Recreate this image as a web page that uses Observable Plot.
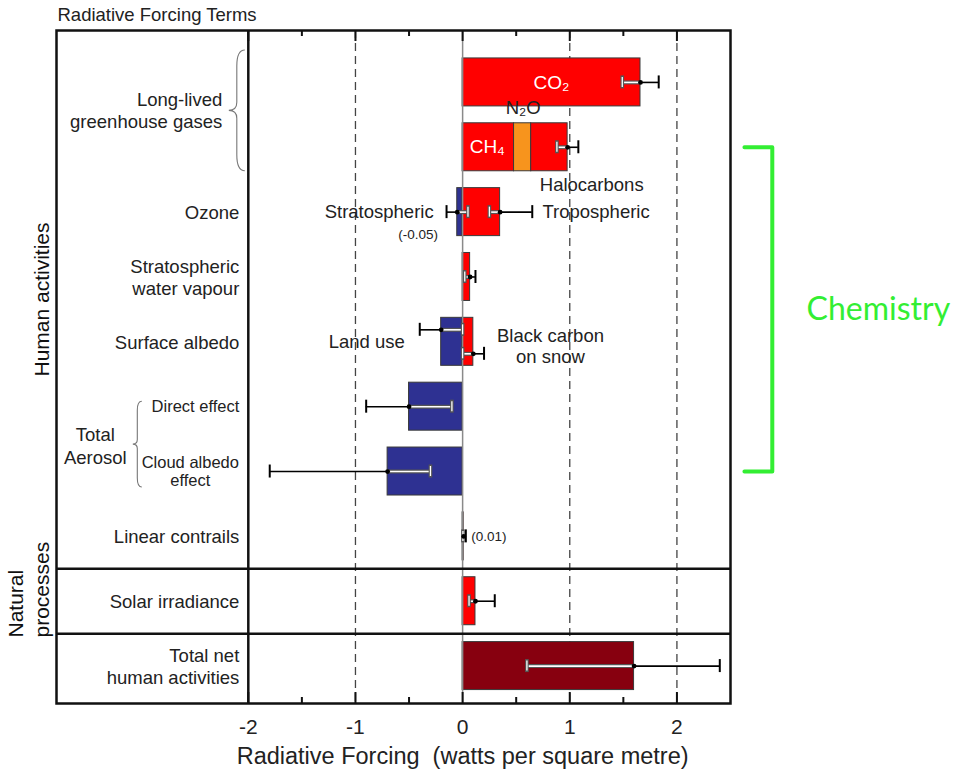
<!DOCTYPE html>
<html><head><meta charset="utf-8">
<script src="https://cdn.jsdelivr.net/npm/d3@7"></script>
<script src="https://cdn.jsdelivr.net/npm/@observablehq/plot@0.6"></script>
<style>body{margin:0;background:#fff}</style>
</head><body><div id="chart"></div>
<script>
// ---------- data ----------
const rows = ["CO2","Other long-lived","Ozone","Stratospheric water vapour","Surface albedo","Direct effect","Cloud albedo effect","Linear contrails","Solar irradiance","Total net human activities"];

const termRow   = ["CO2","Other long-lived","Other long-lived","Other long-lived","Ozone","Ozone","Stratospheric water vapour","Surface albedo","Surface albedo","Direct effect","Cloud albedo effect","Linear contrails","Solar irradiance","Total net human activities"];
const termName  = ["CO2","CH4","N2O","Halocarbons","Stratospheric ozone","Tropospheric ozone","Stratospheric water vapour","Land use","Black carbon on snow","Direct effect","Cloud albedo effect","Linear contrails","Solar irradiance","Total net human activities"];
const termValue = [1.66,0.48,0.16,0.34,-0.05,0.35,0.07,-0.2,0.1,-0.5,-0.7,0.01,0.12,1.6];
const termKind  = ["warming","warming","nitrous","warming","cooling","warming","warming","cooling","warming","cooling","cooling","warming","warming","net"];

const errRow   = ["CO2","Other long-lived","Ozone","Ozone","Stratospheric water vapour","Surface albedo","Surface albedo","Direct effect","Cloud albedo effect","Linear contrails","Solar irradiance","Total net human activities"];
const errValue = [1.66,0.98,-0.05,0.35,0.07,-0.2,0.1,-0.5,-0.7,0.01,0.12,1.6];
const errLow   = [1.49,0.88,-0.15,0.25,0.02,-0.4,0.0,-0.9,-1.8,0.003,0.06,0.6];
const errHigh  = [1.83,1.08,0.05,0.65,0.12,0.0,0.2,-0.1,-0.3,0.03,0.30,2.4];
const errLane  = ["mid","mid","mid","mid","mid","upper","lower","mid","mid","mid","mid","mid"];

const kinds = ["warming","cooling","nitrous","net"];
const kindColors = ["#ff0000","#2e3192","#f7941d","#87000f"];

const tickLabels = [-2,-1,0,1,2];
const minorTicks = [-1.5,-0.5,0.5,1.5];
const dashedAt = [-1,1,2];

// ---------- layout ----------
const W = 953, H = 771, mT = 30, mB = 68, mL = 56, mR = 223;
const plotH = H - mT - mB;
const yRange = [49.5, 698], padIn = 0.26, padOut = 0.13;
const step = (yRange[1] - yRange[0]) / (rows.length - padIn + 2 * padOut);
const bandW = step * (1 - padIn);
const capInset = (bandW - 13) / 2;
const FONT = "Liberation Sans, Arial, Helvetica, sans-serif";
const INK = "#222";

const terms = termRow.map((row, i) => ({row, name: termName[i], value: termValue[i], kind: termKind[i]}));
const errs = errRow.map((row, i) => ({row, value: errValue[i], low: errLow[i], high: errHigh[i], lane: errLane[i]}));

const inner = d => d.value >= 0 ? d.low : d.high;
const outer = d => d.value >= 0 ? d.high : d.low;
function errMarks(data, dy) {
  return [
    Plot.ruleY(data, {y: "row", x1: "value", x2: outer, stroke: "#000", strokeWidth: 1.6, dy}),
    Plot.tickX(data, {x: outer, y: "row", stroke: "#000", strokeWidth: 2, insetTop: capInset, insetBottom: capInset, dy}),
    Plot.ruleY(data, {y: "row", x1: inner, x2: "value", stroke: "#555", strokeWidth: 4, dy}),
    Plot.ruleY(data, {y: "row", x1: inner, x2: "value", stroke: "#fff", strokeWidth: 1.6, dy}),
    Plot.tickX(data, {x: inner, y: "row", stroke: "#555", strokeWidth: 3.6, insetTop: capInset, insetBottom: capInset, dy}),
    Plot.tickX(data, {x: inner, y: "row", stroke: "#fff", strokeWidth: 1.3, insetTop: capInset + 1.5, insetBottom: capInset + 1.5, dy}),
    Plot.dot(data, {x: "value", y: "row", r: 2.4, fill: "#000", dy})
  ];
}

// annotations
const inBar = [{row: "CO2", x: 0.83, text: "CO₂"}, {row: "Other long-lived", x: 0.23, text: "CH₄"}];
const rowLabels = [
  {row: "Ozone", text: "Ozone"},
  {row: "Stratospheric water vapour", text: "Stratospheric\nwater vapour"},
  {row: "Surface albedo", text: "Surface albedo"},
  {row: "Linear contrails", text: "Linear contrails"},
  {row: "Solar irradiance", text: "Solar irradiance"},
  {row: "Total net human activities", text: "Total net\nhuman activities"}
];
const bracket = [
  {x: 2.63, row: "Other long-lived"}, {x: 2.89, row: "Other long-lived"},
  {x: 2.89, row: "Cloud albedo effect"}, {x: 2.63, row: "Cloud albedo effect"}
];

const plot = Plot.plot({
  width: W, height: H,
  marginTop: mT, marginBottom: mB, marginLeft: mL, marginRight: mR,
  x: {domain: [-3.79, 2.5], axis: null},
  y: {domain: rows, range: yRange, paddingInner: padIn, paddingOuter: padOut, round: false, axis: null},
  color: {domain: kinds, range: kindColors},
  style: {fontFamily: FONT, background: "#fff", overflow: "visible", color: INK},
  marks: [
    Plot.ruleX(dashedAt, {stroke: "#444", strokeWidth: 1.3, strokeDasharray: "8,5"}),
    Plot.barX(terms, {x: "value", y: "row", fill: "kind", stroke: "#3a3a3a", strokeWidth: 1}),
    Plot.ruleX([0], {stroke: "#8a8a8a", strokeWidth: 1.5}),
    Plot.ruleX([-2], {stroke: "#111", strokeWidth: 2.5}),
    Plot.ruleY(["Solar irradiance"], {dy: -step / 2, stroke: "#111", strokeWidth: 2.5}),
    Plot.ruleY(["Solar irradiance"], {dy: step / 2, stroke: "#111", strokeWidth: 2.5}),
    Plot.ruleX(tickLabels, {insetBottom: plotH - 11, stroke: "#111", strokeWidth: 2}),
    Plot.ruleX(tickLabels, {insetTop: plotH - 11, stroke: "#111", strokeWidth: 2}),
    Plot.ruleX(minorTicks, {insetBottom: plotH - 6, stroke: "#111", strokeWidth: 2}),
    Plot.ruleX(minorTicks, {insetTop: plotH - 6, stroke: "#111", strokeWidth: 2}),
    Plot.frame({stroke: "#111", strokeWidth: 2.5}),
    ...errMarks(errs.filter(d => d.lane === "mid"), 0),
    ...errMarks(errs.filter(d => d.lane === "upper"), -12),
    ...errMarks(errs.filter(d => d.lane === "lower"), 12),
    // in-plot labels
    Plot.text(inBar, {x: "x", y: "row", text: "text", fill: "#fff", fontSize: 19}),
    Plot.text([{row: "Other long-lived", x: 0.565, text: "N₂O"}], {x: "x", y: "row", text: "text", dy: -39, fontSize: 18.5, fill: INK}),
    Plot.text([{row: "Other long-lived", x: 0.72, text: "Halocarbons"}], {x: "x", y: "row", text: "text", dy: 38, textAnchor: "start", fontSize: 18.5, fill: INK}),
    Plot.text([{row: "Ozone", x: 0.745, text: "Tropospheric"}], {x: "x", y: "row", text: "text", textAnchor: "start", fontSize: 18.5, fill: INK}),
    Plot.text([{row: "Ozone", x: -0.27, text: "Stratospheric"}, {row: "Surface albedo", x: -0.54, text: "Land use"}], {x: "x", y: "row", text: "text", textAnchor: "end", fontSize: 18.5, fill: INK}),
    Plot.text([{row: "Ozone", x: -0.23, text: "(-0.05)"}], {x: "x", y: "row", text: "text", dy: 23, textAnchor: "end", fontSize: 13.5, fill: INK}),
    Plot.text([{row: "Surface albedo", x: 0.82, text: "Black carbon\non snow"}], {x: "x", y: "row", text: "text", dy: 4, lineHeight: 1.1, fontSize: 18.5, fill: INK}),
    Plot.text([{row: "Linear contrails", x: 0.08, text: "(0.01)"}], {x: "x", y: "row", text: "text", textAnchor: "start", fontSize: 13.5, fill: INK}),
    // left panel labels
    Plot.text(rowLabels, {x: () => -2, y: "row", text: "text", dx: -9, textAnchor: "end", fontSize: 18.5, lineHeight: 1.2, fill: INK}),
    Plot.text([{row: "Other long-lived", text: "Long-lived\ngreenhouse gases"}], {x: () => -2, y: "row", text: "text", dx: -26, dy: -37, textAnchor: "end", fontSize: 18.5, lineHeight: 1.2, fill: INK}),
    Plot.text([{row: "Direct effect", text: "Direct effect"}], {x: () => -2, y: "row", text: "text", dx: -9, textAnchor: "end", fontSize: 16.5, fill: INK}),
    Plot.text([{row: "Cloud albedo effect", text: "Cloud albedo\neffect"}], {x: () => -2, y: "row", text: "text", dx: -58, textAnchor: "middle", fontSize: 16.5, lineHeight: 1.1, fill: INK}),
    Plot.text([{row: "Direct effect", text: "Total\nAerosol"}], {x: () => -2, y: "row", text: "text", dx: -153, dy: 38, textAnchor: "middle", fontSize: 18.5, lineHeight: 1.25, fill: INK}),
    // rotated group labels
    Plot.text(["Human activities"], {frameAnchor: "left", text: d => d, rotate: -90, dx: -8, dy: -67.5, lineAnchor: "bottom", textAnchor: "middle", fontSize: 21, fill: "#111"}),
    Plot.text(["Natural\nprocesses"], {frameAnchor: "left", text: d => d, rotate: -90, dx: -8, dy: 270.5, lineAnchor: "bottom", textAnchor: "start", fontSize: 21, lineHeight: 1.2, fill: "#111"}),
    // title and axis
    Plot.text(["Radiative Forcing Terms"], {frameAnchor: "top-left", text: d => d, dx: 1, dy: -15, lineAnchor: "middle", textAnchor: "start", fontSize: 18.5, fill: INK}),
    Plot.text(tickLabels, {x: d => d, frameAnchor: "bottom", text: d => String(d), dy: 24, lineAnchor: "middle", fontSize: 21, fill: INK}),
    Plot.text([{x: 0, text: "Radiative Forcing  (watts per square metre)"}], {x: "x", frameAnchor: "bottom", text: "text", dy: 60, lineAnchor: "bottom", fontSize: 23.5, fill: INK}),
    // chemistry annotation
    Plot.line(bracket, {x: "x", y: "row", stroke: "#33ee33", strokeWidth: 4, strokeLinejoin: "round", strokeLinecap: "round"}),
    Plot.text([{x: 3.21, row: "Stratospheric water vapour", text: "Chemistry"}], {x: "x", y: "row", text: "text", dy: 33, textAnchor: "start", fontSize: 32, fontFamily: "Lato, Open Sans, sans-serif", fill: "#33ee33"})
  ]
});

// curly braces (decoration) placed with the plot's own scales
const xs = plot.scale("x"), ys = plot.scale("y");
function bracePath(xTip, xEnd, y0, y1) {
  const w = xEnd - xTip, ym = (y0 + y1) / 2, xm = (xTip + xEnd) / 2;
  return `M${xEnd},${y0} Q${xm},${y0} ${xm},${y0 + w} L${xm},${ym - w / 2} Q${xm},${ym} ${xTip},${ym} Q${xm},${ym} ${xm},${ym + w / 2} L${xm},${y1 - w} Q${xm},${y1} ${xEnd},${y1}`;
}
const xDiv = xs.apply(-2);
const bw = ys.bandwidth;
const braces = [
  [xDiv - 19, xDiv - 3, ys.apply("CO2") - 8, ys.apply("Other long-lived") + bw],
  [xDiv - 115, xDiv - 106, ys.apply("Direct effect") + bw / 2 - 5, ys.apply("Cloud albedo effect") + bw / 2 + 16]
];
const svg = d3.select(plot);
for (const b of braces) {
  svg.append("path").attr("d", bracePath(...b)).attr("fill", "none").attr("stroke", "#777").attr("stroke-width", 1.1);
}
document.getElementById("chart").appendChild(plot);
</script>
</body></html>
